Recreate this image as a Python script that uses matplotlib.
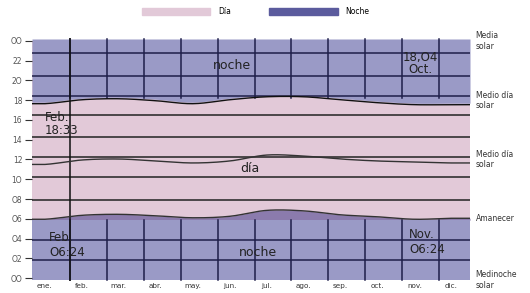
import numpy as np
from matplotlib import pyplot as plt
from matplotlib.patches import Patch

# meses y horas (lectura aproximada del grafico)
meses = ['ene.', 'feb.', 'mar.', 'abr.', 'may.', 'jun.',
         'jul.', 'ago.', 'sep.', 'oct.', 'nov.', 'dic.']
ocaso = [17.8, 18.2, 18.3, 18.1, 17.8, 18.2, 18.5, 18.5, 18.2, 17.9, 17.7, 17.7]
mediodia = [11.5, 11.95, 12.05, 11.85, 11.65, 11.85, 12.45, 12.35, 12.05, 11.85, 11.75, 11.65]
amanecer = [5.95, 6.35, 6.45, 6.3, 6.1, 6.25, 6.85, 6.8, 6.4, 6.2, 5.95, 6.05]
horas = [0, 2, 4, 6, 8, 10, 12, 14, 16, 18, 20, 22, 24]
etiquetas_horas = ['OO', 'O2', 'O4', 'O6', 'O8', '1O', '12', '14', '16', '18', '2O', '22', 'OO']
lineas_noche = [22.8, 20.5, 18.4, 3.85, 1.8]
lineas_dia = [16.5, 14.3, 12.25, 10.2, 7.9]
etiquetas_der = [(24, 'Media\nsolar'), (18, 'Medio día\nsolar'), (12, 'Medio día\nsolar'),
                 (6, 'Amanecer'), (-0.2, 'Medinoche\nsolar')]

rosa = '#e2c9d8'
lila = '#9a9ac6'
lila_osc = '#8b7bad'
noche_leg = '#5b5b9d'
azul = '#1f1f4a'

XMIN, XMAX = -0.35, 11.5


def suave(vals, n=20):
    # curva suave (Catmull-Rom) por los puntos mensuales, extendida a los bordes
    p = np.r_[vals[0], vals, vals[-1]]
    xs, ys = [], []
    for i in range(len(vals) - 1):
        t = np.linspace(0, 1, n, endpoint=False)
        p0, p1, p2, p3 = p[i], p[i + 1], p[i + 2], p[i + 3]
        y = 0.5 * (2 * p1 + (-p0 + p2) * t + (2 * p0 - 5 * p1 + 4 * p2 - p3) * t ** 2
                   + (-p0 + 3 * p1 - 3 * p2 + p3) * t ** 3)
        xs.append(i + t)
        ys.append(y)
    xs = np.r_[XMIN, np.concatenate(xs), len(vals) - 1, XMAX]
    ys = np.r_[vals[0], np.concatenate(ys), vals[-1], vals[-1]]
    return xs, ys


fig = plt.figure(figsize=(5.3, 2.93), dpi=100)
ax = fig.add_axes([32 / 530, 1 - 281 / 293, 438 / 530, 243 / 293])
ax.set_xlim(XMIN, XMAX)
ax.set_ylim(-0.3, 24.3)

xa, ya = suave(amanecer)
xm, ym = suave(mediodia)
xo, yo = suave(ocaso)

# fondo dia
ax.fill_between([XMIN, XMAX], 0, 24, color=rosa, lw=0)
# noche arriba
ax.fill_between(xo, yo, 24.2, color=lila, lw=0)
# noche abajo
base = min(amanecer) - 0.1
ax.fill_between(xa, base, ya, color=lila_osc, lw=0)
ax.fill_between([XMIN, XMAX], -0.2, base, color=lila, lw=0)

# rejilla
for h in lineas_noche:
    ax.axhline(h, color=azul, lw=1.1)
for h in lineas_dia:
    ax.axhline(h, color='#222222', lw=1.1)
for i in range(len(meses) - 1):
    xv = i + 0.67
    ax.plot([xv, xv], [18.2, 24.2], color=azul, lw=1.1)
    ax.plot([xv, xv], [-0.2, base], color=azul, lw=1.1)
ax.axvline(0.67, color='#111111', lw=1.1)

# curvas
ax.plot(xo, yo - 0.15, color='#111111', lw=1)
ax.plot(xm, ym, color='#333333', lw=1)
ax.plot(xa, ya, color='#333333', lw=1)

for s in ax.spines.values():
    s.set_visible(False)
ax.set_yticks(horas)
ax.set_yticklabels(etiquetas_horas, fontsize=5.5, color='#555555')
ax.tick_params(axis='y', length=5, width=0.8, color='#333333', pad=2)
ax.set_xticks(range(len(meses)))
ax.set_xticklabels(meses, fontsize=5.2, color='#333333')
ax.tick_params(axis='x', length=0, pad=1.5)

# textos
ax.text(5.07, 21.5, 'noche', fontsize=9, ha='center', va='center', color='#222222')
ax.text(5.75, 2.6, 'noche', fontsize=9, ha='center', va='center', color='#222222')
ax.text(5.55, 11.1, 'día', fontsize=9, ha='center', va='center', color='#222222')
ax.text(0.0, 15.6, 'Feb.\n18:33', fontsize=8.5, ha='left', va='center', color='#222222', linespacing=1.0)
ax.text(10.15, 21.7, '18,O4\nOct.', fontsize=8.5, ha='center', va='center', color='#222222', linespacing=0.9)
ax.text(0.12, 3.3, 'Feb.\nO6:24', fontsize=8.5, ha='left', va='center', color='#222222', linespacing=1.2)
ax.text(9.85, 3.6, 'Nov.\nO6:24', fontsize=8.5, ha='left', va='center', color='#222222', linespacing=1.2)

for h, t in etiquetas_der:
    ax.text(XMAX + 0.15, h, t, fontsize=5.5, ha='left', va='center', color='#333333',
            linespacing=1.2, clip_on=False)

# leyenda
handles = [Patch(color=rosa, label='Día'), Patch(color=noche_leg, label='Noche')]
fig.legend(handles=handles, loc='upper center', bbox_to_anchor=(0.482, 1.0), ncol=2,
           frameon=False, fontsize=5.5, handlelength=9.0, handleheight=1.1,
           columnspacing=5.0, handletextpad=1.0)

plt.savefig('out.png', dpi=100)
